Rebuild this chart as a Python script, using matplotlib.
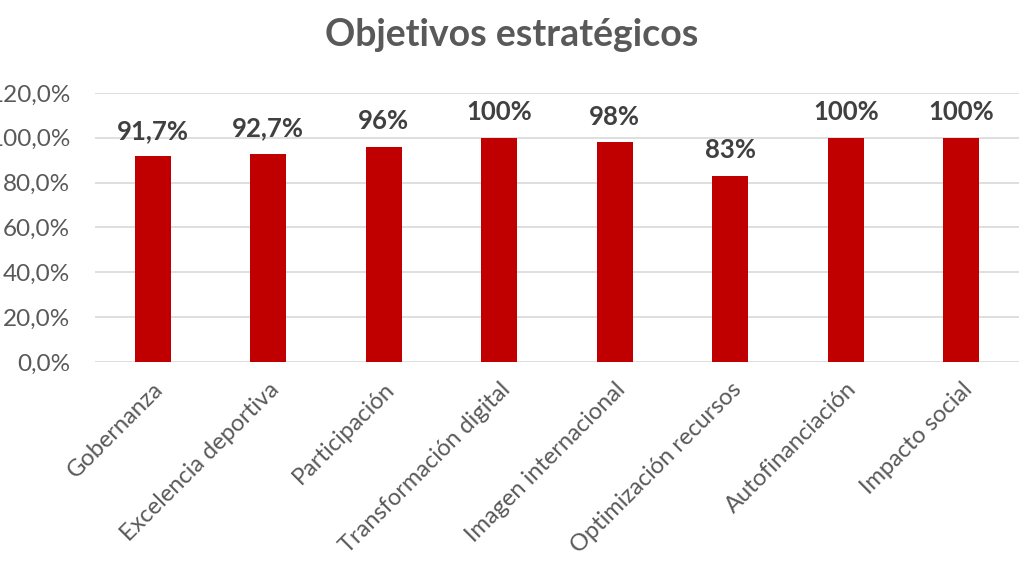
import matplotlib
matplotlib.use("Agg")
import matplotlib.pyplot as plt
from matplotlib.ticker import FuncFormatter

categories = ["Gobernanza", "Excelencia deportiva", "Participación", "Transformación digital",
              "Imagen internacional", "Optimización recursos", "Autofinanciación", "Impacto social"]
values = [0.917, 0.927, 0.96, 1.00, 0.98, 0.83, 1.00, 1.00]
labels = ["91,7%", "92,7%", "96%", "100%", "98%", "83%", "100%", "100%"]
yticks = [0, 0.2, 0.4, 0.6, 0.8, 1.0, 1.2]

plt.rcParams['font.family'] = ['Lato', 'DejaVu Sans']

fig = plt.figure(figsize=(10.24, 5.76), dpi=100)
ax = fig.add_axes([95/1024, 1-362/576, (1019-95)/1024, (362-93)/576])

x = range(len(categories))
ax.bar(x, values, width=0.31, color="#C00000", zorder=3)
for xi, v, lab in zip(x, values, labels):
    ax.text(xi, v + 0.115, lab, ha="center", va="center", fontsize=18.5, fontweight="bold", color="#404040")

ax.set_xlim(-0.5, len(categories) - 0.5)
ax.set_ylim(0, 1.2)
ax.set_yticks(yticks)
ax.yaxis.set_major_formatter(FuncFormatter(lambda v, p: f"{v*100:.1f}%".replace(".", ",")))
ax.set_xticks(list(x))
ax.set_xticklabels(categories, rotation=45, ha="right", rotation_mode="anchor")
ax.tick_params(axis="both", length=0, labelcolor="#595959")
ax.tick_params(axis="y", pad=18, labelsize=17.5)
ax.tick_params(axis="x", pad=12, labelsize=17)
ax.grid(axis="y", color="#D9D9D9", linewidth=1.2, zorder=0)
for s in ax.spines.values():
    s.set_visible(False)

fig.text(0.5, 1-35/576, "Objetivos estratégicos", ha="center", va="center",
         fontsize=27, fontweight="bold", color="#595959")

fig.savefig("out.png", dpi=100)
